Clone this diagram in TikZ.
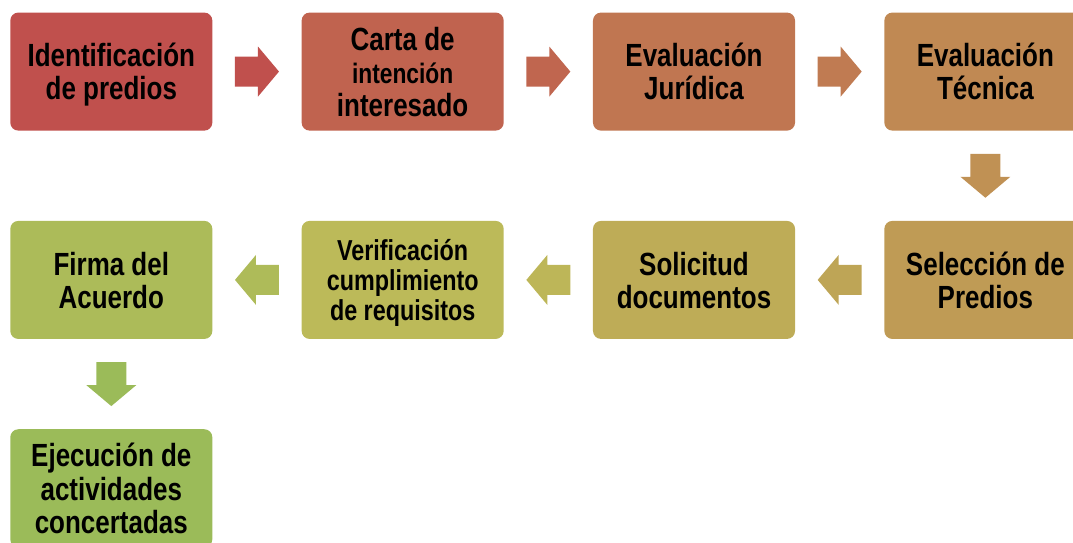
\documentclass[tikz,border=0pt]{standalone}
\usepackage{fontspec}
\setmainfont{Liberation Sans}[FakeStretch=0.81]
\usetikzlibrary{matrix}
\definecolor{c1}{HTML}{C0504D}
\definecolor{c2}{HTML}{C0634F}
\definecolor{c3}{HTML}{C07651}
\definecolor{c4}{HTML}{C08953}
\definecolor{c5}{HTML}{BF9B55}
\definecolor{c6}{HTML}{BEAC57}
\definecolor{c7}{HTML}{BCBA59}
\definecolor{c8}{HTML}{ACBB59}
\definecolor{c9}{HTML}{9BBB59}
\colorlet{a1}{c1}
\colorlet{a2}{c2!86!c3}
\colorlet{a3}{c3!71!c4}
\colorlet{a4}{c4!57!c5}
\colorlet{a5}{c5!43!c6}
\colorlet{a6}{c6!29!c7}
\colorlet{a7}{c7!14!c8}
\colorlet{a8}{c9}

\begin{document}
\begin{tikzpicture}[x=0.025cm, y=-0.025cm,
box/.style={rectangle, rounded corners=5.7pt, fill=#1, minimum width=5.05cm, minimum height=2.95cm,
  align=center, inner sep=2pt, text depth=0pt, font=\bfseries\fontsize{22.8pt}{23.5pt}\selectfont},
small/.style={font=\bfseries\fontsize{20.5pt}{21.3pt}\selectfont},
pics/arr/.style={code={\fill[#1] (-22,-15)--(1,-15)--(1,-25)--(22,0)--(1,25)--(1,15)--(-22,15)--cycle;}},
]
\useasboundingbox (0,0) rectangle (1073,542);
\clip (0,0) rectangle (1073,542);
\matrix (m) [anchor=north west, inner sep=0pt, row sep=2.25cm, column sep=2.225cm] at (10,12) {
%first row
\node (b1) [box=c1] {Identificación\\de predios};&
\node (b2) [box=c2] {Carta de\\{\fontsize{20pt}{21pt}\selectfont intención}\\interesado};&
\node (b3) [box=c3] {Evaluación\\Jurídica};&
\node (b4) [box=c4] {Evaluación\\Técnica};\\
%second row
\node (b8) [box=c8] {Firma del\\Acuerdo};&
\node (b7) [box=c7, small] {Verificación\\cumplimiento\\de requisitos};&
\node (b6) [box=c6] {Solicitud\\documentos};&
\node (b5) [box=c5] {Selección de\\Predios};\\
%third row
\node (b9) [box=c9] {Ejecución de\\actividades\\concertadas};&
&
&
\\
};
\path (b1)--pic[pos=0.5]{arr=a1}(b2);
\path (b2)--pic[pos=0.5]{arr=a2}(b3);
\path (b3)--pic[pos=0.5]{arr=a3}(b4);
\path (b4)--pic[pos=0.5, rotate=-90]{arr=a4}(b5);
\path (b5)--pic[pos=0.5, rotate=180]{arr=a5}(b6);
\path (b6)--pic[pos=0.5, rotate=180]{arr=a6}(b7);
\path (b7)--pic[pos=0.5, rotate=180]{arr=a7}(b8);
\path (b8)--pic[pos=0.5, rotate=-90]{arr=a8}(b9);
\end{tikzpicture}
\end{document}
